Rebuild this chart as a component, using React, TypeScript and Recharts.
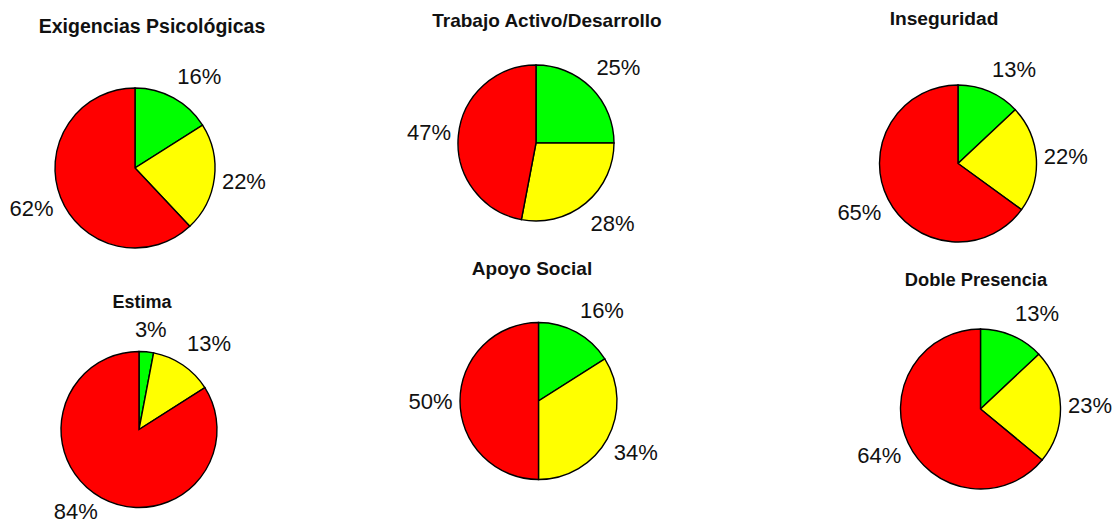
import React from 'react';
import { PieChart, Pie, Cell } from 'recharts';

const titles = [
  'Exigencias Psicológicas',
  'Trabajo Activo/Desarrollo',
  'Inseguridad',
  'Estima',
  'Apoyo Social',
  'Doble Presencia',
];
const levels = ['Verde', 'Amarillo', 'Rojo'];
const levelColors = ['#00ff00', '#ffff00', '#ff0000'];
const greenValues = [16, 25, 13, 3, 16, 13];
const yellowValues = [22, 28, 22, 13, 34, 23];
const redValues = [62, 47, 65, 84, 50, 64];

// where each pie and its title sit on the 1112x525 canvas
const layout = [
  { cx: 135, cy: 168, r: 80, tx: 152, ty: 33, ts: 19.5 },
  { cx: 536, cy: 143, r: 78, tx: 547, ty: 27, ts: 19 },
  { cx: 958, cy: 163.5, r: 78.5, tx: 944, ty: 25, ts: 19.2 },
  { cx: 139, cy: 429.5, r: 78, tx: 142, ty: 308, ts: 18 },
  { cx: 538.5, cy: 401, r: 78.5, tx: 532, ty: 275, ts: 19 },
  { cx: 980.5, cy: 409, r: 80, tx: 976, ty: 286, ts: 18.3 },
];

const FONT = '"Liberation Sans", Arial, Helvetica, sans-serif';
const LABEL_SIZE = 22;
const RAD = Math.PI / 180;

const ramp = (t: number, full: number) => Math.sign(t) * Math.min(1, Math.abs(t) / full);

function renderLabel(props: any) {
  const { cx, cy, midAngle, outerRadius, value } = props;
  const text = `${value}%`;
  const ux = Math.cos(-midAngle * RAD);
  const uy = Math.sin(-midAngle * RAD);
  // anchor just outside the rim, then slide the box away from the pie
  const halfW = (((text.length - 1) * 0.556 + 0.889) * LABEL_SIZE) / 2;
  const d = outerRadius * 1.095;
  const x = cx + d * ux + halfW * ramp(ux, 0.4);
  // keep the lowest label inside the canvas
  const y = Math.min(cy + d * uy + 15 * ramp(uy, 0.7), 511);
  return (
    <text
      x={x}
      y={y}
      textAnchor="middle"
      dominantBaseline="central"
      fontFamily={FONT}
      fontSize={LABEL_SIZE}
      fill="#111"
    >
      {text}
    </text>
  );
}

export default function App() {
  return (
    <div style={{ position: 'absolute', left: 0, top: 0, background: '#fff' }}>
      <PieChart width={1112} height={525} margin={{ top: 0, right: 0, bottom: 0, left: 0 }}>
        {titles.map((title, i) => {
          const data = levels.map((name, k) => ({
            name,
            value: [greenValues, yellowValues, redValues][k][i],
          }));
          const L = layout[i];
          return (
            <Pie
              key={title}
              data={data}
              dataKey="value"
              nameKey="name"
              cx={L.cx}
              cy={L.cy}
              outerRadius={L.r}
              startAngle={90}
              endAngle={-270}
              stroke="#000"
              strokeWidth={1.4}
              label={renderLabel}
              labelLine={false}
              isAnimationActive={false}
            >
              {data.map((d, k) => (
                <Cell key={d.name} fill={levelColors[k]} />
              ))}
            </Pie>
          );
        })}
        {titles.map((title, i) => (
          <text
            key={`t-${title}`}
            x={layout[i].tx}
            y={layout[i].ty}
            textAnchor="middle"
            fontFamily={FONT}
            fontWeight="bold"
            fontSize={layout[i].ts}
            fill="#111"
          >
            {title}
          </text>
        ))}
      </PieChart>
    </div>
  );
}
